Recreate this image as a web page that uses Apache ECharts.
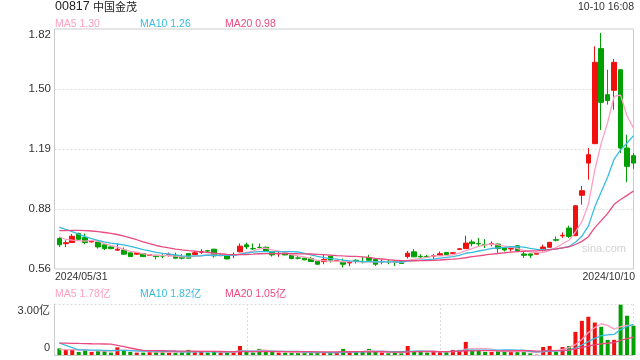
<!DOCTYPE html>
<html><head><meta charset="utf-8">
<script src="https://cdn.jsdelivr.net/npm/echarts@6/dist/echarts.min.js"></script>
<style>html,body{margin:0;padding:0;background:#fff}#c{width:640px;height:360px}</style>
</head><body><div id="c"></div>
<script>
// ---- data ----
const opens  = [0.720,0.693,0.699,0.746,0.725,0.702,0.702,0.687,0.676,0.659,0.660,0.645,0.638,0.641,0.632,0.632,0.630,0.632,0.632,0.624,
                0.641,0.636,0.648,0.656,0.664,0.630,0.634,0.632,0.650,0.687,0.667,0.674,0.674,0.650,0.640,0.643,0.632,0.618,0.617,0.615,
                0.601,0.599,0.627,0.601,0.599,0.592,0.606,0.600,0.620,0.611,0.598,0.600,0.600,0.599,0.625,0.650,0.626,0.626,0.627,0.632,
                0.647,0.642,0.663,0.667,0.702,0.694,0.689,0.691,0.691,0.670,0.665,0.682,0.639,0.639,0.638,0.666,0.674,0.714,0.734,0.775,
                0.735,0.947,1.116,1.218,1.717,1.475,1.498,1.606,1.195,1.155];
const closes = [0.687,0.698,0.732,0.716,0.699,0.707,0.676,0.667,0.667,0.664,0.638,0.625,0.646,0.625,0.635,0.625,0.628,0.635,0.617,0.617,
                0.617,0.645,0.651,0.654,0.629,0.633,0.613,0.635,0.680,0.676,0.666,0.673,0.655,0.634,0.642,0.634,0.615,0.617,0.608,0.599,
                0.585,0.610,0.606,0.604,0.585,0.597,0.599,0.598,0.606,0.585,0.600,0.598,0.598,0.589,0.643,0.624,0.624,0.624,0.630,0.640,
                0.635,0.645,0.666,0.696,0.693,0.692,0.687,0.693,0.667,0.660,0.668,0.656,0.632,0.632,0.641,0.675,0.700,0.711,0.737,0.731,
                0.892,0.971,1.160,1.645,1.435,1.444,1.645,1.195,1.099,1.116];
const lows   = [0.676,0.676,0.697,0.711,0.690,0.700,0.667,0.659,0.664,0.655,0.636,0.623,0.635,0.623,0.630,0.611,0.617,0.624,0.615,0.610,
                0.615,0.634,0.638,0.650,0.620,0.628,0.611,0.617,0.648,0.664,0.660,0.669,0.653,0.625,0.624,0.632,0.611,0.610,0.606,0.597,
                0.583,0.585,0.594,0.599,0.568,0.575,0.589,0.589,0.603,0.576,0.585,0.585,0.576,0.587,0.615,0.622,0.615,0.622,0.611,0.630,
                0.633,0.640,0.660,0.665,0.679,0.679,0.670,0.679,0.644,0.652,0.652,0.654,0.618,0.618,0.636,0.652,0.672,0.705,0.723,0.723,
                0.733,0.898,1.029,1.216,1.290,1.423,1.396,1.169,1.016,1.086];
const highs  = [0.729,0.711,0.743,0.751,0.746,0.709,0.704,0.688,0.678,0.694,0.673,0.646,0.648,0.643,0.637,0.633,0.645,0.646,0.646,0.638,
                0.643,0.655,0.664,0.660,0.666,0.636,0.636,0.646,0.694,0.699,0.694,0.694,0.678,0.652,0.655,0.645,0.633,0.629,0.618,0.624,
                0.603,0.638,0.629,0.606,0.615,0.598,0.611,0.624,0.634,0.613,0.610,0.610,0.606,0.601,0.655,0.664,0.638,0.634,0.638,0.652,
                0.649,0.648,0.668,0.735,0.714,0.723,0.717,0.705,0.693,0.672,0.679,0.684,0.652,0.641,0.643,0.688,0.702,0.731,0.752,0.787,
                0.895,0.996,1.195,1.729,1.799,1.606,1.662,1.610,1.265,1.169];
// volume, in 亿
const volumes = [0.39,0.30,0.30,0.18,0.30,0.18,0.26,0.26,0.14,0.45,0.30,0.18,0.14,0.14,0.20,0.22,0.18,0.14,0.14,0.18,
                 0.30,0.20,0.22,0.14,0.18,0.14,0.14,0.18,0.53,0.18,0.14,0.36,0.20,0.18,0.14,0.14,0.14,0.14,0.14,0.14,
                 0.14,0.14,0.14,0.14,0.36,0.18,0.18,0.22,0.36,0.22,0.14,0.10,0.14,0.10,0.53,0.22,0.22,0.14,0.18,0.18,
                 0.18,0.30,0.30,0.77,0.30,0.30,0.18,0.18,0.22,0.22,0.18,0.22,0.22,0.10,0.02,0.47,0.53,0.18,0.47,0.53,
                 1.36,2.01,2.25,1.91,1.66,0.89,0.89,2.96,2.31,1.72];
// sessions before the window (estimated from where the MA lines start)
const prevCloses  = [0.70,0.71,0.72,0.73,0.74,0.75,0.75,0.76,0.78,0.80,0.82,0.84,0.85,0.83,0.81,0.77,0.75,0.73,0.71];
const prevVolumes = [0.40,0.40,0.40,0.40,0.40,0.40,0.40,0.40,1.80,1.80,1.80,1.60,1.50,0.40,0.30,0.30,0.30,0.30,0.30];

const priceTicks   = ['0.56','0.88','1.19','1.50','1.82'];
const priceRange   = [0.56, 1.82];
const volTicks     = ['0','3.00亿'];
const volRange     = [0, 3];
const stockCode    = '00817';
const stockName    = '中国金茂';
const timeStamp    = '10-10 16:08';
const dateLabels   = ['2024/05/31','2024/10/10'];
const priceMaTexts = ['MA5 1.30','MA10 1.26','MA20 0.98'];
const volMaTexts   = ['MA5 1.78亿','MA10 1.82亿','MA20 1.05亿'];
const maPeriods    = [5, 10, 20];

// ---- styling ----
const UP = '#f01010', DOWN = '#00a000';
const MA_COLORS = ['#ffa0c0', '#38bde0', '#ea4a80'];
const FONT = '"Liberation Sans", Arial, "Noto Sans CJK SC", sans-serif';
const CJK = '"Noto Sans CJK SC", sans-serif';

function movingAvg(series, prev, n) {
  const all = prev.concat(series);
  const off = prev.length;
  return series.map((_, i) => {
    const end = off + i, start = end - n + 1;
    if (start < 0) return [i, null];
    let s = 0;
    for (let k = start; k <= end; k++) s += all[k];
    return [i, +(s / n).toFixed(4)];
  });
}

const N = closes.length;
const candleData = closes.map((c, i) => [i, opens[i], c, lows[i], highs[i]]);
const volData = volumes.map((v, i) => ({
  value: [i, v],
  itemStyle: { color: closes[i] >= opens[i] ? UP : DOWN }
}));

const series = [{
  type: 'candlestick', xAxisIndex: 0, yAxisIndex: 0, data: candleData,
  barWidth: 5, clip: false,
  itemStyle: { color: UP, color0: DOWN, borderColor: UP, borderColor0: DOWN, borderWidth: 1 }
}];
maPeriods.forEach((p, k) => {
  series.push({
    type: 'line', xAxisIndex: 0, yAxisIndex: 0, showSymbol: false, symbol: 'none',
    data: movingAvg(closes, prevCloses, p),
    lineStyle: { color: MA_COLORS[k], width: 1.3 }, z: 3
  });
});
series.push({ type: 'bar', xAxisIndex: 1, yAxisIndex: 2, data: volData, barWidth: 4 });
maPeriods.forEach((p, k) => {
  series.push({
    type: 'line', xAxisIndex: 1, yAxisIndex: 2, showSymbol: false, symbol: 'none',
    data: movingAvg(volumes, prevVolumes, p),
    lineStyle: { color: MA_COLORS[k], width: 1.3 }, z: 3
  });
});

const dotted = { color: '#dcdcdc', type: [2, 2], width: 1 };
const graphic = [
  { type: 'text', x: 55, y: 7, style: {
      text: '{a|' + stockCode + '} {b|' + stockName + '}', verticalAlign: 'middle',
      rich: { a: { fontSize: 12.5, fontFamily: FONT, fill: '#222' }, b: { fontSize: 11, fontFamily: CJK, fill: '#222' } } } },
  { type: 'text', x: 634, y: 7, style: { text: timeStamp, align: 'right', verticalAlign: 'middle', fontSize: 10.5, fontFamily: FONT, fill: '#333' } },
  { type: 'text', x: 55, y: 277.5, style: { text: dateLabels[0], verticalAlign: 'middle', fontSize: 10.5, fontFamily: FONT, fill: '#333' } },
  { type: 'text', x: 635, y: 277.5, style: { text: dateLabels[1], align: 'right', verticalAlign: 'middle', fontSize: 10.5, fontFamily: FONT, fill: '#333' } },
  { type: 'text', x: 582, y: 249, z: 1, style: { text: 'sina.com', verticalAlign: 'middle', fontSize: 11, fontFamily: FONT, fill: '#d2d2d2' } }
];
const legendX = [55, 140, 225];
priceMaTexts.forEach((t, k) => graphic.push({ type: 'text', x: legendX[k], y: 24.5,
  style: { text: t, verticalAlign: 'middle', fontSize: 10.5, fontFamily: FONT, fill: MA_COLORS[k] } }));
volMaTexts.forEach((t, k) => graphic.push({ type: 'text', x: legendX[k], y: 294.5,
  style: { text: t, verticalAlign: 'middle', fontSize: 10.5, fontFamily: FONT, fill: MA_COLORS[k] } }));

const option = {
  animation: false,
  backgroundColor: '#fff',
  grid: [
    { left: 54.5, right: 6.5, top: 29, height: 240, show: true, borderColor: '#ccc', borderWidth: 1, outerBoundsMode: 'none', containLabel: false },
    { left: 54.5, right: 6.5, top: 304, height: 51, outerBoundsMode: 'none', containLabel: false }
  ],
  xAxis: [
    { type: 'value', gridIndex: 0, min: -0.75, max: N - 1, show: false },
    { type: 'value', gridIndex: 1, min: -0.75, max: N - 1, show: false },
    { type: 'value', gridIndex: 1, min: 0, max: 3, interval: 1, position: 'bottom',
      axisLine: { show: true, onZero: false, lineStyle: { color: '#ccc' } }, axisTick: { show: false }, axisLabel: { show: false },
      splitLine: { show: true, showMinLine: false, lineStyle: dotted } }
  ],
  yAxis: [
    { type: 'value', gridIndex: 0, min: priceRange[0], max: priceRange[1], show: false },
    { type: 'value', gridIndex: 0, position: 'left', min: 0, max: priceTicks.length - 1, interval: 1,
      axisLine: { show: false }, axisTick: { show: false },
      splitLine: { show: true, showMinLine: false, showMaxLine: false, lineStyle: dotted },
      axisLabel: { margin: 3.5, color: '#333', fontSize: 11.5, fontFamily: FONT,
        formatter: v => v === priceTicks.length - 1 ? '{t|' + priceTicks[v] + '}' : priceTicks[v],
        rich: { t: { padding: [12, 0, 0, 0], fontSize: 11.5, fontFamily: FONT, color: '#333' } } } },
    { type: 'value', gridIndex: 1, position: 'left', min: volRange[0], max: volRange[1], interval: volRange[1],
      axisLine: { show: true, onZero: false, lineStyle: { color: '#ccc' } }, axisTick: { show: false },
      splitLine: { show: true, showMinLine: false, lineStyle: dotted },
      axisLabel: { margin: 4.5, color: '#333', fontSize: 11, fontFamily: FONT,
        formatter: v => v === volRange[0] ? '{b|' + volTicks[0] + '}' : '{t|' + volTicks[1] + '}',
        rich: { t: { padding: [14, 0, 0, 0], fontSize: 11, fontFamily: FONT, color: '#333' },
                b: { padding: [0, 0, 14, 0], fontSize: 11, fontFamily: FONT, color: '#333' } } } }
  ],
  graphic: graphic,
  series: series
};

const chart = echarts.init(document.getElementById('c'), null, { renderer: 'canvas' });
chart.setOption(option);
</script>
</body></html>
